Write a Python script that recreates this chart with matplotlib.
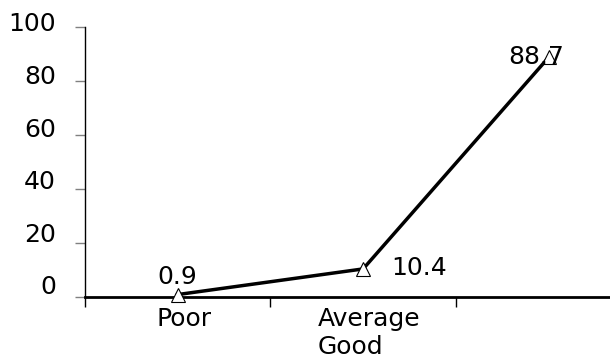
"""Line chart of rating shares with labelled points."""

import matplotlib
matplotlib.use('Agg')
from matplotlib import pyplot, transforms

categories = ['Poor', 'Average\nGood', '']
values = [0.9, 10.4, 88.7]
value_labels = ['0.9', '10.4', '88.7']
yticks = [0, 20, 40, 60, 80, 100]

pyplot.rc('font', family='DejaVu Sans', size=18)
fig = pyplot.figure(figsize=(6.10, 3.61), dpi=100)
ax = fig.add_axes([0.1393, 0.1773, 0.912, 0.748])

x = list(range(len(values)))
ax.plot(x, values, color='black', linewidth=2.5, marker='^', markersize=10,
        markerfacecolor='white', markeredgecolor='black', markeredgewidth=0.8,
        clip_on=False, zorder=3)

# Value labels next to each point.
offsets = [(0, 13), (20, 1), (-9, 0)]
aligns = ['center', 'left', 'center']
for xi, yi, text, off, ha in zip(x, values, value_labels, offsets, aligns):
    ax.annotate(text, (xi, yi), xytext=off, textcoords='offset points',
                ha=ha, va='center', fontsize=18, zorder=4)

ax.set_xlim(-0.5, 2.5)
ax.set_ylim(0, 100)
ax.set_yticks(yticks)
ax.set_yticklabels([str(t) for t in yticks])
ax.set_xticks(x)
ax.set_xticklabels(categories, multialignment='left')
ax.set_xticks([-0.5, 0.5, 1.5, 2.5], minor=True)

ax.spines['top'].set_visible(False)
ax.spines['right'].set_visible(False)
ax.spines['bottom'].set_linewidth(2)
ax.spines['left'].set_linewidth(1)

ax.tick_params(axis='x', which='major', length=0, pad=7)
ax.tick_params(axis='x', which='minor', length=7, width=1, direction='out')
ax.tick_params(axis='y', length=7, width=1, color='#808080', pad=14)

# Lift the y labels a little (more near the bottom), nudge x labels right.
for t, lbl in zip(yticks, ax.get_yticklabels()):
    shift = (5 + 0.07 * (100 - t)) / 100
    up = transforms.ScaledTranslation(0, shift, fig.dpi_scale_trans)
    lbl.set_transform(lbl.get_transform() + up)
right = transforms.ScaledTranslation(6 / 100, 0, fig.dpi_scale_trans)
for lbl in ax.get_xticklabels():
    lbl.set_transform(lbl.get_transform() + right)

fig.savefig('out.png', dpi=100)
